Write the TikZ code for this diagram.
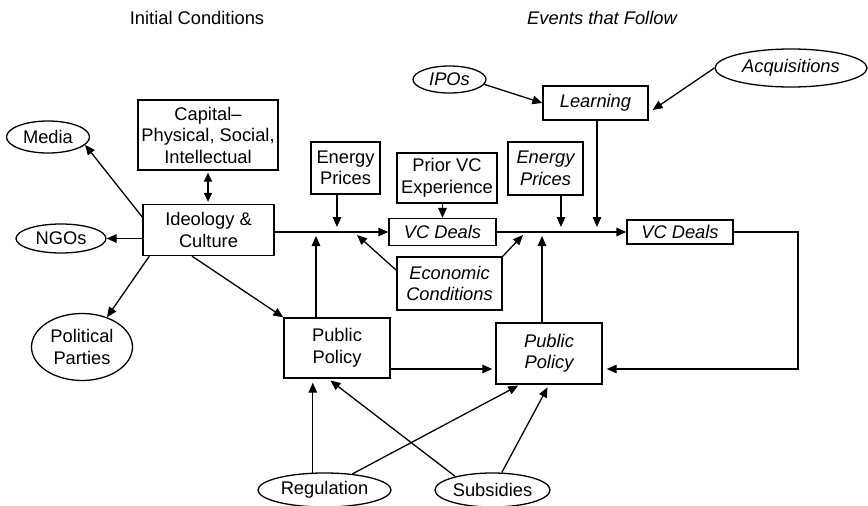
\documentclass[tikz,border=0pt]{standalone}
\usepackage{fontspec}
\setmainfont{Liberation Sans}
\usetikzlibrary{arrows.meta,shapes.geometric}
\begin{document}
\begin{tikzpicture}[x=1pt,y=-1pt,
  font=\fontsize{18.3}{21.5}\selectfont,
  every node/.style={inner sep=0pt, align=center},
  box/.style={draw, line width=1.3pt, rectangle},
  oval/.style={draw, line width=1.3pt, ellipse},
  ev/.style={font=\fontsize{18.3}{21.5}\selectfont\itshape},
  link/.style={line width=1.3pt},
  arr/.style={link, -{Triangle[length=10pt,width=8.5pt]}},
  darr/.style={link, {Triangle[length=9pt,width=8pt]}-{Triangle[length=9pt,width=8pt]}}
]
\useasboundingbox (0,0) rectangle (868,506);

% column headings
\node (initial) at (197,18) {Initial Conditions};
\node[ev] (events) at (602,18) {Events that Follow};

% initial conditions
\node[oval, minimum width=83pt, minimum height=32pt] (media) at (48,137) {Media};
\node[box, minimum width=140pt, minimum height=70pt] (capital) at (208,135) {Capital--\\Physical, Social,\\Intellectual};
\node[box, minimum width=131pt, minimum height=51pt] (ideo) at (208.5,230) {Ideology \&\\Culture};
\node[oval, minimum width=90pt, minimum height=29pt] (ngos) at (61,238.5) {NGOs};
\node[oval, minimum width=101pt, minimum height=67pt] (parties) at (82,347) {Political\\Parties};
\node[box, minimum width=69pt, minimum height=52pt] (energy1) at (345.5,168) {Energy\\Prices};
\node[box, minimum width=100pt, minimum height=50pt] (prior) at (447,178) {Prior VC\\Experience};
\node[box, ev, minimum width=107pt, minimum height=27pt] (vc1) at (442.5,232) {VC Deals};
\node[box, ev, minimum width=105pt, minimum height=53pt] (econ) at (449.5,283.5) {Economic\\Conditions};
\node[box, minimum width=106pt, minimum height=60pt] (pp1) at (337,348) {Public\\Policy};

% events that follow
\node[oval, ev, minimum width=73pt, minimum height=27pt] (ipos) at (449.5,79.5) {IPOs};
\node[box, ev, minimum width=105pt, minimum height=34pt] (learning) at (595.5,103) {Learning};
\node[oval, ev, minimum width=152pt, minimum height=38pt] (acq) at (791,68) {Acquisitions};
\node[box, ev, minimum width=75pt, minimum height=53pt] (energy2) at (545.5,168.5) {Energy\\Prices};
\node[box, ev, minimum width=106pt, minimum height=24pt] (vc2) at (680,232) {VC Deals};
\node[box, ev, minimum width=106pt, minimum height=61pt] (pp2) at (549,353.5) {Public\\Policy};
\node[oval, minimum width=133pt, minimum height=34pt] (reg) at (324.5,490) {Regulation};
\node[oval, minimum width=115pt, minimum height=34pt] (sub) at (492.5,490) {Subsidies};

% points where influences meet the main line
\coordinate (t1) at (337,227);
\coordinate (t2) at (316,236);
\coordinate (t3) at (357,235);
\coordinate (t4) at (523,235);
\coordinate (t5) at (561,227);
\coordinate (t6) at (597,227);
\coordinate (t7) at (542,236);
\coordinate (c1) at (798,232);
\coordinate (c2) at (798,369);

% main chain
\draw[arr] (ideo.east |- vc1.west) -- (vc1.west);
\draw[arr] (vc1.east) -- (vc2.west);
\draw[arr] (vc2.east) -- (c1) -- (c2) -- ([xshift=4pt]pp2.east |- c2);

% initial conditions links
\draw[darr] ([yshift=-2pt]capital.south) -- ([yshift=2pt]capital.south |- ideo.north);
\draw[arr] (ideo.169) -- (media.-12);
\draw[arr] (ideo.west |- ngos.east) -- (ngos.east);
\draw[arr] ([xshift=7pt]ideo.south west) -- (parties.50);
\draw[arr] ([xshift=-16.5pt]ideo.south) -- (pp1.north west);
\draw[arr] (energy1.south -| t1) -- (t1);
\draw[arr] (prior.south -| vc1.north) -- (vc1.north);
\draw[arr] (pp1.north -| t2) -- (t2);
\draw[arr] (econ.166) -- (t3);
\draw[arr] (econ.north east) -- (t4);

% later events
\draw[arr] (ipos.-8) -- (learning.west);
\draw[arr] (acq.west) -- ([xshift=4pt,yshift=-7pt]learning.east);
\draw[arr] (learning.south -| t6) -- (t6);
\draw[arr] (energy2.south -| t5) -- (t5);
\draw[arr] (pp2.north -| t7) -- (t7);
\draw[arr] (pp1.east |- c2) -- ([xshift=-3pt]pp2.west |- c2);

% policy instruments
\draw[arr, shorten >=4pt] (reg.124) -- (reg.124 |- pp1.south);
\draw[arr, shorten >=2pt] (reg.30) -- ([xshift=-29pt]pp2.south);
\draw[arr, shorten >=3pt] (sub.160) -- ([xshift=-9pt]pp1.south);
\draw[arr, shorten >=3pt] (sub.62) -- (pp2.south);
\end{tikzpicture}
\end{document}
